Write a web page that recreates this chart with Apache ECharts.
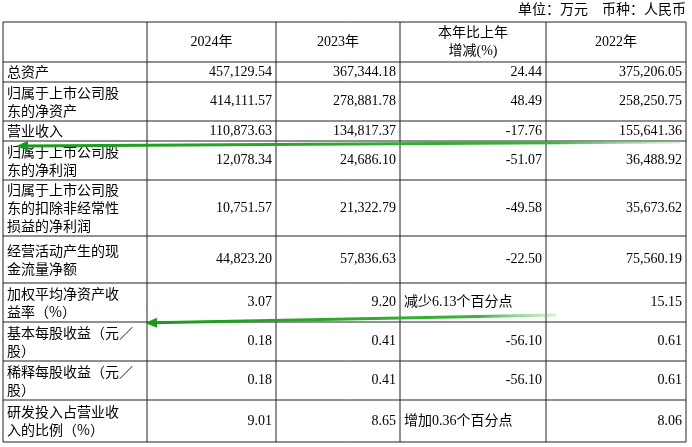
<!DOCTYPE html><html><head><meta charset="utf-8"><script src="https://cdn.jsdelivr.net/npm/echarts@6/dist/echarts.min.js"></script>
<style>html,body{margin:0;background:#fff}#c{width:692px;height:447px}</style></head><body><div id="c"></div>
<script>
const headers = ['', '2024年', '2023年', '本年比上年\n增减(%)', '2022年'];
const items = ['总资产','归属于上市公司股\n东的净资产','营业收入','归属于上市公司股\n东的净利润','归属于上市公司股\n东的扣除非经常性\n损益的净利润','经营活动产生的现\n金流量净额','加权平均净资产收\n益率（%）','基本每股收益（元／\n股）','稀释每股收益（元／\n股）','研发投入占营业收\n入的比例（%）'];
const v2024 = ['457,129.54','414,111.57','110,873.63','12,078.34','10,751.57','44,823.20','3.07','0.18','0.18','9.01'];
const v2023 = ['367,344.18','278,881.78','134,817.37','24,686.10','21,322.79','57,836.63','9.20','0.41','0.41','8.65'];
const vChg = ['24.44','48.49','-17.76','-51.07','-49.58','-22.50','减少6.13个百分点','-56.10','-56.10','增加0.36个百分点'];
const v2022 = ['375,206.05','258,250.75','155,641.36','36,488.92','35,673.62','75,560.19','15.15','0.61','0.61','8.06'];
const unitText = '单位：万元　币种：人民币';

const colX = [3,147,276,400,546,686];
const rowY = [22,62,82,121,141,180,236,283,322,361,400,442];
const font = '14px "Liberation Serif","Noto Sans CJK SC",serif';
const els = [];
els.push({type:'text',style:{text:unitText,x:686,y:10,align:'right',verticalAlign:'middle',font,fill:'#000'}});
rowY.forEach(y=>els.push({type:'line',shape:{x1:3,y1:y,x2:686,y2:y},style:{stroke:'#222',lineWidth:1}}));
colX.forEach(x=>els.push({type:'line',shape:{x1:x,y1:22,x2:x,y2:442},style:{stroke:'#222',lineWidth:1}}));
headers.forEach((h,i)=>{ if(!h) return;
  els.push({type:'text',style:{text:h,x:(colX[i]+colX[i+1])/2,y:42,align:'center',verticalAlign:'middle',font,fill:'#000',lineHeight:18}});});
const cols=[v2024,v2023,vChg,v2022];
items.forEach((t,r)=>{
  const cy=(rowY[r+1]+rowY[r+2])/2;
  els.push({type:'text',style:{text:t,x:7,y:cy,verticalAlign:'middle',font:'14px "Noto Sans CJK SC",sans-serif',fill:'#000',lineHeight:18}});
  cols.forEach((c,k)=>{
    const isText=/[\u4e00-\u9fa5]/.test(c[r]);
    els.push({type:'text',style:{text:c[r],x:isText?colX[k+1]+4:colX[k+2]-4,y:cy,align:isText?'left':'right',verticalAlign:'middle',font,fill:'#000'}});
  });
});
function arrow(x1,y1,x2,y2){
  const g={type:'linear',x:0,y:0,x2:1,y2:0,colorStops:[{offset:0,color:'#1a9a1a'},{offset:0.8,color:'#3cb33c'},{offset:1,color:'rgba(120,210,120,0.3)'}]};
  els.push({type:'line',shape:{x1:x2+8,y1:y2-(y2-y1)*8/(x1-x2),x2:x1,y2:y1},style:{stroke:g,lineWidth:3}});
  const a=Math.atan2(y1-y2,x1-x2);
  const L=12,W=5;
  const bx=x2+L*Math.cos(a),by=y2+L*Math.sin(a);
  els.push({type:'polygon',shape:{points:[[x2,y2],[bx-W*Math.sin(a),by+W*Math.cos(a)],[bx+W*Math.sin(a),by-W*Math.cos(a)]]},style:{fill:'#1a9a1a'}});
}
arrow(680,142,16,146);
arrow(556,315,145,323);
const chart=echarts.init(document.getElementById('c'));
chart.setOption({animation:false,graphic:{elements:els}});
</script></body></html>
